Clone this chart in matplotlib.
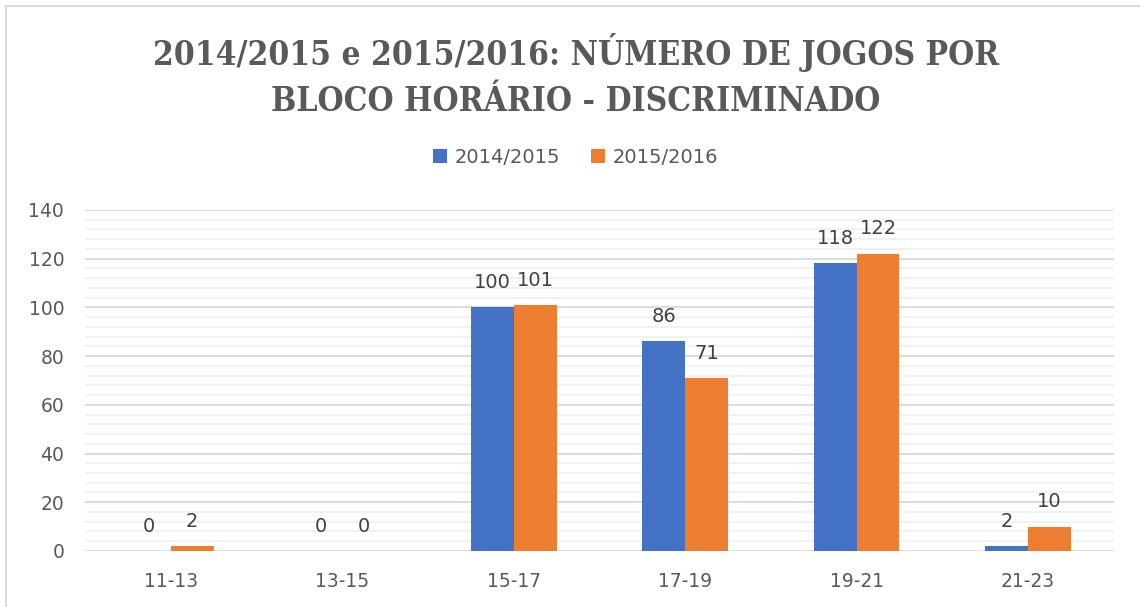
#!/usr/bin/env python3
"""Jogos por bloco horário, 2014/2015 vs 2015/2016."""
import matplotlib
matplotlib.use("Agg")
import matplotlib.pyplot as plt
from matplotlib.patches import Rectangle
import numpy as np

blocos = ["11-13", "13-15", "15-17", "17-19", "19-21", "21-23"]
jogos_1415 = [0, 0, 100, 86, 118, 2]
jogos_1516 = [2, 0, 101, 71, 122, 10]
series = ["2014/2015", "2015/2016"]

BLUE = "#4472C4"
ORANGE = "#ED7D31"
TXT = "#595959"

fig = plt.figure(figsize=(11.4, 6.07), dpi=100)
ax = fig.add_axes([0.0746, 0.0923, 0.9024, 0.562])

x = np.arange(len(blocos))
w = 0.25
b1 = ax.bar(x - w / 2, jogos_1415, w, color=BLUE, label=series[0], zorder=3)
b2 = ax.bar(x + w / 2, jogos_1516, w, color=ORANGE, label=series[1], zorder=3)

for bars, vals in ((b1, jogos_1415), (b2, jogos_1516)):
    for r, v in zip(bars, vals):
        ax.annotate(str(v), (r.get_x() + r.get_width() / 2, v),
                    xytext=(0, 11), textcoords="offset points",
                    ha="center", va="bottom", fontsize=14, color="#404040")

ax.set_xlim(-0.5, len(blocos) - 0.5)
ax.set_ylim(0, 140)
ax.set_yticks(range(0, 141, 20))
ax.set_yticks(range(0, 141, 4), minor=True)
ax.set_xticks(x)
ax.set_xticklabels(blocos)
ax.grid(axis="y", which="major", color="#D9D9D9", linewidth=1.3, zorder=0)
ax.grid(axis="y", which="minor", color="#F0F0F0", linewidth=1.3, zorder=0)
ax.tick_params(which="both", length=0, labelsize=13.5, labelcolor=TXT)
ax.tick_params(axis="x", pad=15)
ax.tick_params(axis="y", pad=15)
for s in ax.spines.values():
    s.set_visible(False)

fig.text(0.505, 0.876, "2014/2015 e 2015/2016: NÚMERO DE JOGOS POR\nBLOCO HORÁRIO - DISCRIMINADO",
         ha="center", va="center", fontsize=24, fontweight="bold", color=TXT,
         family="DejaVu Serif", fontstretch="condensed", linespacing=1.5)

fig.legend(handles=[b1, b2], labels=series, loc="center", bbox_to_anchor=(0.505, 0.741),
           ncol=2, frameon=False, fontsize=14, labelcolor=TXT,
           handlelength=0.7, handleheight=0.7, handletextpad=0.4, columnspacing=1.6)

fig.patches.append(Rectangle((6 / 1140, -0.1), 1.2, 1 - 6 / 607 + 0.1,
                             transform=fig.transFigure, fill=False,
                             edgecolor="#D9D9D9", linewidth=1.5))

fig.savefig("out.png", dpi=100, facecolor="white")
